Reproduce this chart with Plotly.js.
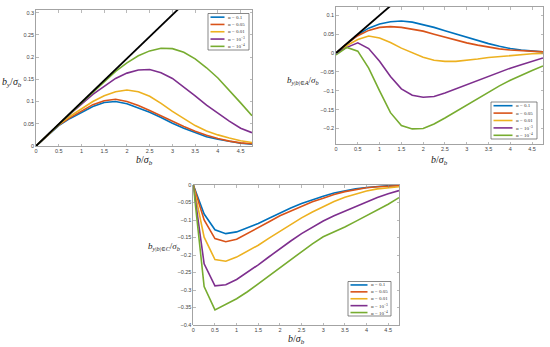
<!DOCTYPE html>
<html><head><meta charset="utf-8">
<script src="https://cdn.plot.ly/plotly-3.0.1.min.js"></script>
<style>html,body{margin:0;padding:0;background:#fff}#chart{width:550px;height:347px}</style>
</head><body><div id="chart"></div>
<script>
// ---- data ----
const bOverSigma = [0,0.25,0.5,0.75,1,1.25,1.5,1.75,2,2.25,2.5,2.75,3,3.25,3.5,3.75,4,4.25,4.5,4.75];
const alphaLabels = ['α = 0.1','α = 0.05','α = 0.01','α = 10<sup>−3</sup>','α = 10<sup>−4</sup>'];
const seriesColors = ['#0072BD','#D95319','#EDB120','#7E2F8E','#77AC30'];

// panel 1: b_y / sigma_b
const by_a0p1   = [0,0.024,0.046,0.062,0.075,0.089,0.098,0.100,0.095,0.086,0.076,0.064,0.051,0.040,0.030,0.021,0.015,0.010,0.006,0.004];
const by_a0p05  = [0,0.024,0.047,0.064,0.078,0.093,0.102,0.105,0.100,0.091,0.080,0.068,0.055,0.044,0.033,0.024,0.017,0.011,0.007,0.005];
const by_a0p01  = [0,0.025,0.048,0.067,0.083,0.100,0.113,0.122,0.126,0.122,0.112,0.096,0.078,0.061,0.046,0.034,0.025,0.018,0.012,0.008];
const by_a1em3  = [0,0.025,0.049,0.072,0.093,0.116,0.134,0.152,0.164,0.171,0.172,0.165,0.152,0.133,0.113,0.092,0.073,0.056,0.040,0.030];
const by_a1em4  = [0,0.025,0.049,0.073,0.097,0.121,0.145,0.168,0.187,0.203,0.214,0.220,0.219,0.211,0.196,0.176,0.153,0.126,0.097,0.068];
const refLineX1 = [0,3.2];
const refLineY1 = [0,0.315];

// panel 2: b_{y|b|∈A} / sigma_b
const bA_a0p1   = [0,0.025,0.048,0.066,0.077,0.083,0.085,0.082,0.076,0.068,0.059,0.050,0.041,0.033,0.025,0.018,0.012,0.008,0.005,0.003];
const bA_a0p05  = [0,0.025,0.046,0.060,0.068,0.070,0.068,0.064,0.058,0.050,0.042,0.034,0.027,0.021,0.015,0.011,0.008,0.006,0.004,0.003];
const bA_a0p01  = [0,0.020,0.036,0.045,0.040,0.028,0.013,0.000,-0.011,-0.019,-0.022,-0.022,-0.020,-0.016,-0.012,-0.009,-0.006,-0.004,-0.002,-0.001];
const bA_a1em3  = [0,0.015,0.027,0.012,-0.022,-0.062,-0.095,-0.112,-0.117,-0.115,-0.106,-0.095,-0.083,-0.072,-0.061,-0.050,-0.040,-0.031,-0.021,-0.013];
const bA_a1em4  = [-0.005,0.015,0.005,-0.040,-0.100,-0.158,-0.192,-0.201,-0.200,-0.188,-0.172,-0.155,-0.137,-0.120,-0.103,-0.087,-0.072,-0.058,-0.046,-0.034];
const refLineX2 = [0,1.3];
const refLineY2 = [0,0.13];

// panel 3: b_{y|b|∈C} / sigma_b
const bC_a0p1   = [0,-0.083,-0.128,-0.139,-0.134,-0.123,-0.110,-0.095,-0.080,-0.066,-0.053,-0.042,-0.032,-0.023,-0.016,-0.011,-0.007,-0.004,-0.002,-0.001];
const bC_a0p05  = [0,-0.100,-0.153,-0.162,-0.155,-0.139,-0.122,-0.105,-0.088,-0.074,-0.060,-0.048,-0.038,-0.027,-0.019,-0.013,-0.008,-0.005,-0.003,-0.002];
const bC_a0p01  = [0,-0.149,-0.213,-0.218,-0.206,-0.190,-0.172,-0.152,-0.132,-0.112,-0.094,-0.077,-0.061,-0.047,-0.035,-0.025,-0.017,-0.011,-0.007,-0.005];
const bC_a1em3  = [0,-0.225,-0.288,-0.285,-0.270,-0.250,-0.228,-0.205,-0.182,-0.160,-0.139,-0.120,-0.103,-0.088,-0.075,-0.061,-0.048,-0.036,-0.025,-0.016];
const bC_a1em4  = [0,-0.290,-0.357,-0.342,-0.325,-0.305,-0.282,-0.258,-0.235,-0.212,-0.190,-0.168,-0.148,-0.135,-0.120,-0.104,-0.088,-0.072,-0.055,-0.036];

const xTicks = [0,0.5,1,1.5,2,2.5,3,3.5,4,4.5];

// ---- helpers ----
const W = 550, H = 347;
const fx = p => p / W;
const fy = p => 1 - p / H;

const panels = [
  {series:[by_a0p1,by_a0p05,by_a0p01,by_a1em3,by_a1em4], ref:[refLineX1,refLineY1], xa:'x', ya:'y'},
  {series:[bA_a0p1,bA_a0p05,bA_a0p01,bA_a1em3,bA_a1em4], ref:[refLineX2,refLineY2], xa:'x2', ya:'y2'},
  {series:[bC_a0p1,bC_a0p05,bC_a0p01,bC_a1em3,bC_a1em4], ref:null, xa:'x3', ya:'y3'}
];

const traces = [];
panels.forEach(p => {
  p.series.forEach((s, i) => {
    traces.push({x:bOverSigma, y:s, xaxis:p.xa, yaxis:p.ya, type:'scatter', mode:'lines',
      line:{color:seriesColors[i], width:1.6}, name:alphaLabels[i], showlegend:false, hoverinfo:'skip'});
  });
  if (p.ref) traces.push({x:p.ref[0], y:p.ref[1], xaxis:p.xa, yaxis:p.ya, type:'scatter', mode:'lines',
      line:{color:'#000', width:1.8}, showlegend:false, hoverinfo:'skip'});
});

const tickFont = {family:'Liberation Sans, Arial, sans-serif', size:5.5, color:'#444'};
function ax(domain, range, extra) {
  return Object.assign({domain:domain, range:range, showgrid:false, zeroline:false,
    showline:true, mirror:'ticks', linecolor:'#8c8c8c', linewidth:0.8,
    ticks:'inside', ticklen:2.5, tickwidth:0.6, tickcolor:'#8c8c8c',
    tickfont:tickFont, fixedrange:true}, extra);
}

// plot-area pixel boxes [left, right, top, bottom]
const box1 = [36, 252, 10, 146];
const box2 = [336, 543, 7, 144];
const box3 = [193.3, 399, 185, 325];

const layout = {
  width:W, height:H, margin:{l:0,r:0,t:0,b:0}, paper_bgcolor:'#fff', plot_bgcolor:'#fff', showlegend:false,
  xaxis: ax([fx(box1[0]),fx(box1[1])],[0,4.75],{anchor:'y', tickvals:xTicks}),
  yaxis: ax([fy(box1[3]),fy(box1[2])],[0,0.306],{anchor:'x', dtick:0.05}),
  xaxis2: ax([fx(box2[0]),fx(box2[1])],[0,4.75],{anchor:'y2', tickvals:xTicks}),
  yaxis2: ax([fy(box2[3]),fy(box2[2])],[-0.241,0.122],{anchor:'x2', dtick:0.05}),
  xaxis3: ax([fx(box3[0]),fx(box3[1])],[0,4.75],{anchor:'y3', tickvals:xTicks}),
  yaxis3: ax([fy(box3[3]),fy(box3[2])],[-0.4,0],{anchor:'x3', dtick:0.05}),
  shapes:[], annotations:[]
};

const titleFont = {family:'Liberation Serif, DejaVu Serif, serif', size:10, color:'#222'};
const yTitleFont = {family:'Liberation Serif, DejaVu Serif, serif', size:9, color:'#222'};
function addText(text, xpx, ypx, xanchor, font) {
  layout.annotations.push({text:text, x:fx(xpx), y:fy(ypx), xref:'paper', yref:'paper',
    xanchor:xanchor||'center', yanchor:'middle', showarrow:false, font:font||titleFont});
}
const xTitle = '<i>b</i>/<i>σ</i><sub><i>b</i></sub>';
addText(xTitle, (box1[0]+box1[1])/2, 160);
addText(xTitle, (box2[0]+box2[1])/2, 161);
addText(xTitle, (box3[0]+box3[1])/2, 339);
addText('<i>b<sub>y</sub></i>/<i>σ</i><sub><i>b</i></sub>', 0, 82, 'left');
addText('<i>b</i><sub><i>y</i>|<i>b</i>|∈<i>A</i></sub>/<i>σ</i><sub><i>b</i></sub>', 285, 80, 'left', yTitleFont);
addText('<i>b</i><sub><i>y</i>|<i>b</i>|∈<i>C</i></sub>/<i>σ</i><sub><i>b</i></sub>', 146, 246, 'left', yTitleFont);

// manual compact legends (MATLAB style)
const legFont = {family:'Liberation Serif, DejaVu Serif, serif', size:5, color:'#333'};
function addLegend(l, r, t, b, lineLen) {
  layout.shapes.push({type:'rect', xref:'paper', yref:'paper', x0:fx(l), x1:fx(r), y0:fy(b), y1:fy(t),
    line:{color:'#555', width:0.7}, fillcolor:'#fff', layer:'above'});
  const step = (b - t) / 5;
  alphaLabels.forEach((lab, i) => {
    const yc = t + step * (i + 0.5);
    layout.shapes.push({type:'line', xref:'paper', yref:'paper', x0:fx(l+2.5), x1:fx(l+2.5+lineLen),
      y0:fy(yc), y1:fy(yc), line:{color:seriesColors[i], width:1.6}, layer:'above'});
    addText(lab, l + 3.5 + lineLen, yc, 'left', legFont);
  });
}
addLegend(208, 249, 13.5, 50, 14);
addLegend(491, 537, 102, 139, 19);
addLegend(348, 391, 281.5, 316, 17);

Plotly.newPlot('chart', traces, layout, {staticPlot:true, displayModeBar:false});
</script></body></html>
